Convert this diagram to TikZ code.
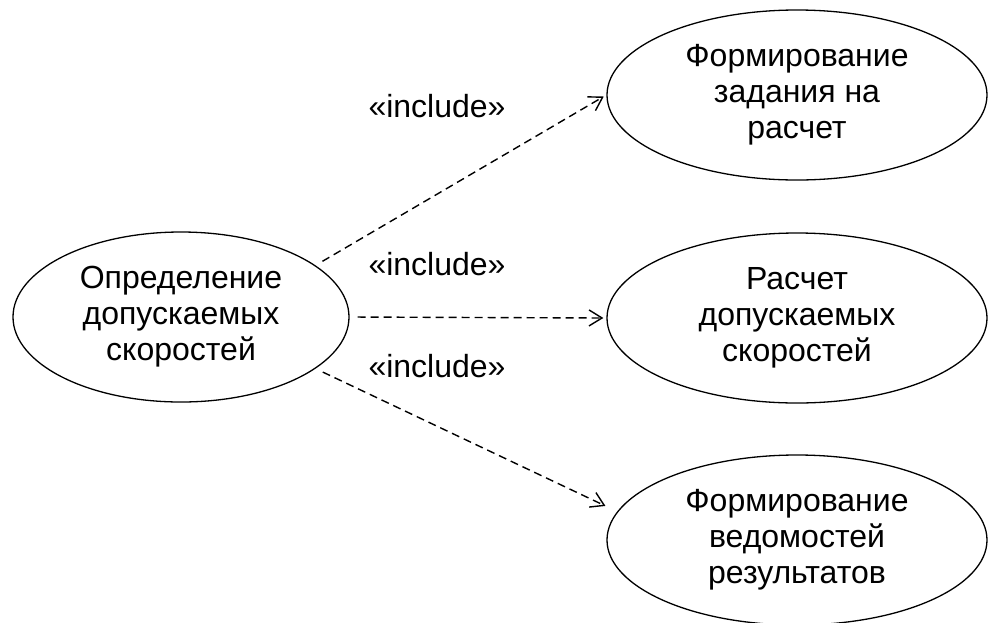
\documentclass[tikz,border=0pt]{standalone}
\usepackage{fontspec}
\setmainfont{Liberation Sans}
\usetikzlibrary{arrows.meta,shapes.geometric}
\begin{document}
\begin{tikzpicture}[x=1pt,y=-1pt,
  txt/.style={font=\fontsize{32}{36}\selectfont, align=center, inner sep=0pt},
  usecase/.style={txt, draw, ellipse, line width=1.3pt},
  smallcase/.style={usecase, minimum width=336pt, minimum height=170pt},
  bigcase/.style={usecase, minimum width=380pt, minimum height=170pt},
  stereo/.style={txt},
  incl/.style={line width=1.4pt, dash pattern=on 8pt off 5pt,
    -{Straight Barb[length=13pt,width=16pt,line width=1.4pt]}}
]
\useasboundingbox (0,0) rectangle (988,622);

% use cases
\node[smallcase] (main) at (181,317) {Определение\\допускаемых\\скоростей};
\node[bigcase] (task) at (797,95) {Формирование\\задания на\\расчет};
\node[bigcase] (calc) at (797,318) {Расчет\\допускаемых\\скоростей};
\node[bigcase] (report) at (797,540) {Формирование\\ведомостей\\результатов};

% stereotype labels
\node[stereo] (l1) at (437,106) {«include»};
\node[stereo] (l2) at (437,264) {«include»};
\node[stereo] (l3) at (437,366) {«include»};

% include relations
\draw[incl, shorten <=8pt, shorten >=3pt] (main.21) -- (task.west);
\draw[incl, shorten <=8pt, shorten >=3pt] (main.east) -- (calc.west);
\draw[incl, shorten <=8pt, shorten >=13pt] (main.-21) -- (report.171);
\end{tikzpicture}
\end{document}
